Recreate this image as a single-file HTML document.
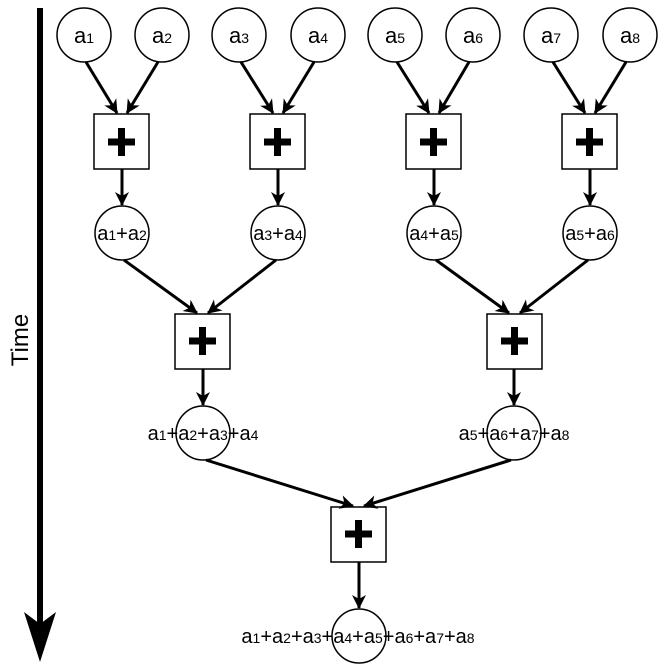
<!DOCTYPE html>
<html><head><meta charset="utf-8"><style>
html,body{margin:0;padding:0;background:#fff;}
svg{display:block;}
text{font-family:"Liberation Sans",sans-serif;fill:#000;}
.s{font-size:14px;}
</style></head><body>
<svg width="661" height="666" viewBox="0 0 661 666" xmlns="http://www.w3.org/2000/svg">
<defs>
<marker id="ah" markerWidth="10" markerHeight="10" refX="9" refY="5" orient="auto" markerUnits="userSpaceOnUse" viewBox="0 0 10 10">
<path d="M0,0 L10,5 L0,10 L3,5 z" fill="#000"/>
</marker>
<marker id="ah2" markerWidth="14" markerHeight="14" refX="13" refY="7" orient="auto" markerUnits="userSpaceOnUse" viewBox="0 0 14 14">
<path d="M0,0 L14,7 L0,14 L4,7 z" fill="#000"/>
</marker>
</defs>
<!-- Time arrow -->
<line x1="40" y1="8" x2="40" y2="630" stroke="#000" stroke-width="6"/>
<path d="M24,612 L40,624 L56,612 L40,662 z" fill="#000"/>
<text x="0" y="0" font-size="24" transform="translate(28,340) rotate(-90)" text-anchor="middle">Time</text>

<g fill="#fff" stroke="#000" stroke-width="1.5">
<circle cx="84" cy="35" r="27"/><circle cx="162" cy="35" r="27"/>
<circle cx="239" cy="35" r="27"/><circle cx="318" cy="35" r="27"/>
<circle cx="395" cy="35" r="27"/><circle cx="473" cy="35" r="27"/>
<circle cx="551" cy="35" r="27"/><circle cx="630" cy="35" r="27"/>
<rect x="94" y="114" width="55" height="55"/><rect x="250" y="114" width="55" height="55"/>
<rect x="406" y="114" width="55" height="55"/><rect x="562" y="114" width="55" height="55"/>
<circle cx="122" cy="233" r="27"/><circle cx="278" cy="233" r="27"/>
<circle cx="434" cy="233" r="27"/><circle cx="590" cy="233" r="27"/>
<rect x="175" y="314" width="55" height="55"/><rect x="487" y="314" width="55" height="55"/>
<circle cx="203" cy="433" r="27"/><circle cx="514" cy="433" r="27"/>
<rect x="331" y="507" width="55" height="55"/>
<circle cx="359" cy="636" r="27"/>
</g>

<g stroke="#000" stroke-width="3" marker-end="url(#ah2)">
<line x1="86" y1="62" x2="117" y2="113"/><line x1="158" y1="62" x2="127" y2="113"/>
<line x1="241" y1="62" x2="273" y2="113"/><line x1="314" y1="62" x2="283" y2="113"/>
<line x1="397" y1="62" x2="429" y2="113"/><line x1="469" y1="62" x2="439" y2="113"/>
<line x1="553" y1="62" x2="585" y2="113"/><line x1="626" y1="62" x2="595" y2="113"/>
<line x1="122" y1="169" x2="122" y2="205"/><line x1="278" y1="169" x2="278" y2="205"/>
<line x1="434" y1="169" x2="434" y2="205"/><line x1="590" y1="169" x2="590" y2="205"/>
<line x1="124" y1="260" x2="197" y2="313"/><line x1="276" y1="260" x2="208" y2="313"/>
<line x1="436" y1="260" x2="509" y2="313"/><line x1="588" y1="260" x2="520" y2="313"/>
<line x1="203" y1="369" x2="203" y2="405"/><line x1="514" y1="369" x2="514" y2="405"/>
<line x1="206" y1="460" x2="353" y2="506"/><line x1="511" y1="460" x2="364" y2="506"/>
<line x1="359" y1="562" x2="359" y2="608"/>
</g>

<g stroke="#000" stroke-width="7">
<line x1="108" y1="142" x2="135" y2="142"/><line x1="121.5" y1="128" x2="121.5" y2="156"/>
<line x1="264" y1="142" x2="291" y2="142"/><line x1="277.5" y1="128" x2="277.5" y2="156"/>
<line x1="420" y1="142" x2="447" y2="142"/><line x1="433.5" y1="128" x2="433.5" y2="156"/>
<line x1="576" y1="142" x2="603" y2="142"/><line x1="589.5" y1="128" x2="589.5" y2="156"/>
<line x1="189" y1="341" x2="216" y2="341"/><line x1="202.5" y1="327" x2="202.5" y2="355"/>
<line x1="501" y1="341" x2="528" y2="341"/><line x1="514.5" y1="327" x2="514.5" y2="355"/>
<line x1="345" y1="534" x2="372" y2="534"/><line x1="358.5" y1="520" x2="358.5" y2="548"/>
</g>

<g font-size="22" text-anchor="middle">
<text x="84" y="43">a<tspan class="s">1</tspan></text>
<text x="162" y="43">a<tspan class="s">2</tspan></text>
<text x="239" y="43">a<tspan class="s">3</tspan></text>
<text x="318" y="43">a<tspan class="s">4</tspan></text>
<text x="395" y="43">a<tspan class="s">5</tspan></text>
<text x="473" y="43">a<tspan class="s">6</tspan></text>
<text x="551" y="43">a<tspan class="s">7</tspan></text>
<text x="630" y="43">a<tspan class="s">8</tspan></text>
</g>
<g font-size="20" text-anchor="middle" stroke="#fff" stroke-width="0" >
<text x="122" y="240">a<tspan class="s">1</tspan>+a<tspan class="s">2</tspan></text>
<text x="278" y="240">a<tspan class="s">3</tspan>+a<tspan class="s">4</tspan></text>
<text x="434" y="240">a<tspan class="s">4</tspan>+a<tspan class="s">5</tspan></text>
<text x="590" y="240">a<tspan class="s">5</tspan>+a<tspan class="s">6</tspan></text>
<text x="203" y="440">a<tspan class="s">1</tspan>+a<tspan class="s">2</tspan>+a<tspan class="s">3</tspan>+a<tspan class="s">4</tspan></text>
<text x="514" y="440">a<tspan class="s">5</tspan>+a<tspan class="s">6</tspan>+a<tspan class="s">7</tspan>+a<tspan class="s">8</tspan></text>
<text x="358" y="643">a<tspan class="s">1</tspan>+a<tspan class="s">2</tspan>+a<tspan class="s">3</tspan>+a<tspan class="s">4</tspan>+a<tspan class="s">5</tspan>+a<tspan class="s">6</tspan>+a<tspan class="s">7</tspan>+a<tspan class="s">8</tspan></text>
</g>
</svg>
</body></html>
